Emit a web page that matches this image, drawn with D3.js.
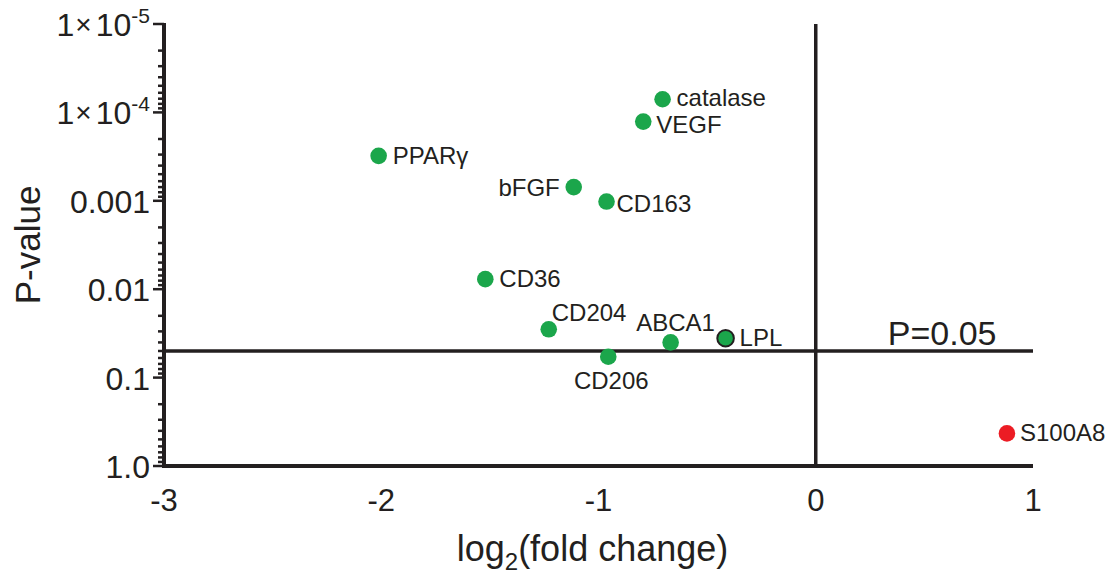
<!DOCTYPE html>
<html>
<head>
<meta charset="utf-8">
<script src="https://cdn.jsdelivr.net/npm/d3@7"></script>
<style>
  html, body { margin: 0; padding: 0; background: #fff; }
  svg text { font-family: "Liberation Sans", Arial, sans-serif; fill: #231f20; }
</style>
</head>
<body>
<svg id="chart" width="1116" height="574"></svg>
<script>
// genes measured
const genes = ['catalase', 'VEGF', 'PPARγ', 'bFGF', 'CD163', 'CD36', 'CD204', 'ABCA1', 'LPL', 'CD206', 'S100A8'];
// log2(fold change)
const log2fc = [-0.705, -0.794, -2.012, -1.114, -0.963, -1.521, -1.229, -0.668, -0.415, -0.955, 0.88];
// P-values
const pValues = [7.1e-5, 1.27e-4, 3.1e-4, 7.0e-4, 1.02e-3, 7.7e-3, 0.0284, 0.040, 0.0359, 0.058, 0.428];

const xTicks = [-3, -2, -1, 0, 1];
const yMajor = [1e-5, 1e-4, 1e-3, 1e-2, 1e-1, 1];
const yTickText = [['1', '-5'], ['1', '-4'], '0.001', '0.01', '0.1', '1.0'];
const threshold = 0.05;

const ink = '#231f20';
const green = '#1ba64b';
const red = '#ec1c24';

const svg = d3.select('#chart');

const x = d3.scaleLinear().domain([-3, 1]).range([164, 1033]);
const y = d3.scaleLog().domain([1, 1e-5]).range([466, 24]);

// label placement around each dot: dx, dy, anchor
const labelPos = {
    'catalase': [14, 7, 'start'],
    'VEGF': [13, 11, 'start'],
    'PPARγ': [14, 8, 'start'],
    'bFGF': [-14, 9, 'end'],
    'CD163': [10, 10, 'start'],
    'CD36': [14, 8, 'start'],
    'CD204': [3, -8, 'start'],
    'ABCA1': [5, -11, 'middle'],
    'LPL': [14, 8, 'start'],
    'CD206': [3, 32, 'middle'],
    'S100A8': [13, 8, 'start']
};

// y axis minor + major ticks (pointing left)
const yAllTicks = [];
for (let e = -5; e < 0; e++) {
    for (let k = 1; k <= 9; k++) yAllTicks.push(k * Math.pow(10, e));
}
yAllTicks.push(1);

svg.append('g')
    .selectAll('line')
    .data(yAllTicks)
    .enter()
    .append('line')
    .attr('x1', d => x(-3) - (yMajor.some(m => Math.abs(m - d) / m < 1e-9) ? 11 : 6))
    .attr('x2', x(-3))
    .attr('y1', d => y(d))
    .attr('y2', d => y(d))
    .attr('stroke', ink)
    .attr('stroke-width', 2.5);

// axis lines
svg.append('line')
    .attr('x1', x(-3)).attr('x2', x(-3))
    .attr('y1', y(1e-5) - 1).attr('y2', y(1) + 2)
    .attr('stroke', ink).attr('stroke-width', 4);

svg.append('line')
    .attr('x1', x(-3)).attr('x2', x(1))
    .attr('y1', y(1)).attr('y2', y(1))
    .attr('stroke', ink).attr('stroke-width', 4);

// zero line
svg.append('line')
    .attr('x1', x(0)).attr('x2', x(0))
    .attr('y1', y(1e-5)).attr('y2', y(1))
    .attr('stroke', ink).attr('stroke-width', 3.5);

// P=0.05 line
svg.append('line')
    .attr('x1', x(-3)).attr('x2', x(1))
    .attr('y1', y(threshold)).attr('y2', y(threshold))
    .attr('stroke', ink).attr('stroke-width', 3.5);

svg.append('text')
    .attr('x', x(0) + 72)
    .attr('y', y(threshold) - 6)
    .attr('font-size', '34px')
    .text('P=0.05');

// y tick labels
const yLabels = svg.append('g')
    .selectAll('text')
    .data(yMajor)
    .enter()
    .append('text')
    .attr('x', x(-3) - 14)
    .attr('y', d => y(d) + 12)
    .attr('text-anchor', 'end')
    .attr('font-size', '32px');

yLabels.each(function(d, i) {
    const t = d3.select(this);
    const lab = yTickText[i];
    if (Array.isArray(lab)) {
        t.append('tspan').text(lab[0]);
        t.append('tspan').attr('font-size', '28px').attr('dx', 1).attr('dy', -2).text('×');
        t.append('tspan').attr('font-size', '32px').attr('dx', 4).attr('dy', 2).text('10');
        t.append('tspan').attr('font-size', '21px').attr('dy', -13).text(lab[1]);
    } else {
        t.text(lab);
    }
});

// x tick labels
svg.append('g')
    .selectAll('text')
    .data(xTicks)
    .enter()
    .append('text')
    .attr('x', d => x(d))
    .attr('y', y(1) + 45)
    .attr('text-anchor', 'middle')
    .attr('font-size', '31px')
    .text(d => d);

// axis titles
const xTitle = svg.append('text')
    .attr('x', (x(-3) + x(1)) / 2 - 6)
    .attr('y', 561)
    .attr('text-anchor', 'middle')
    .attr('font-size', '36px');
xTitle.append('tspan').text('log');
xTitle.append('tspan').attr('font-size', '24px').attr('dy', 9).text('2');
xTitle.append('tspan').attr('dy', -9).text('(fold change)');

svg.append('text')
    .attr('transform', `translate(40, ${(y(1) + y(1e-5)) / 2}) rotate(-90)`)
    .attr('text-anchor', 'middle')
    .attr('font-size', '35px')
    .text('P-value');

// dots
const pts = genes.map((g, i) => ({ gene: g, fc: log2fc[i], p: pValues[i] }));

svg.append('g')
    .selectAll('circle')
    .data(pts)
    .enter()
    .append('circle')
    .attr('cx', d => x(d.fc))
    .attr('cy', d => y(d.p))
    .attr('r', 8.3)
    .attr('fill', d => d.fc > 0 ? red : green)
    .attr('stroke', d => d.gene === 'LPL' ? ink : 'none')
    .attr('stroke-width', 2);

svg.append('g')
    .selectAll('text')
    .data(pts)
    .enter()
    .append('text')
    .attr('x', d => x(d.fc) + labelPos[d.gene][0])
    .attr('y', d => y(d.p) + labelPos[d.gene][1])
    .attr('text-anchor', d => labelPos[d.gene][2])
    .attr('font-size', '24px')
    .text(d => d.gene);
</script>
</body>
</html>
